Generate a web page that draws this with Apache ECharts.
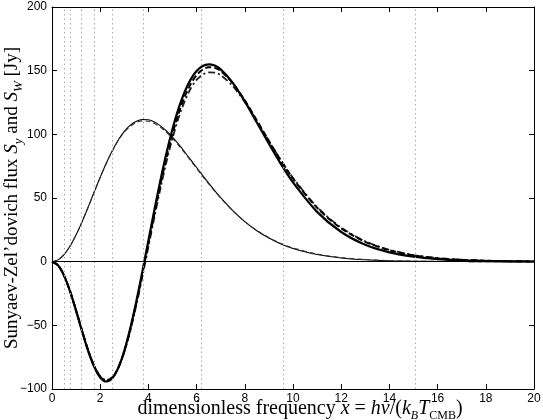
<!DOCTYPE html>
<html>
<head>
<meta charset="utf-8">
<script src="https://cdn.jsdelivr.net/npm/echarts@6/dist/echarts.min.js"></script>
<style>
html, body { margin: 0; padding: 0; background: #fff; }
#chart { width: 543px; height: 420px; }
</style>
</head>
<body>
<div id="chart"></div>
<script>
// dimensionless frequency samples
const xs = [0, 0.25, 0.5, 0.75, 1, 1.25, 1.5, 1.75, 2, 2.25, 2.5, 2.75, 3, 3.25, 3.5, 3.75,
  4, 4.25, 4.5, 4.75, 5, 5.25, 5.5, 5.75, 6, 6.25, 6.5, 6.75, 7, 7.5, 8, 8.5, 9, 9.5, 10,
  11, 12, 13, 14, 15, 16, 17, 18, 19, 20];

// thermal SZ flux S_y [Jy], solid / dashed / dash-dot
const syNonRel = [0, -2.83, -10.96, -23.40, -38.63, -54.82, -70.07, -82.59, -90.93, -94.08, -91.55, -83.37,
  -69.98, -52.19, -31.05, -7.73, 16.59, 40.82, 63.98, 85.29, 104.15, 120.17, 133.12, 142.95, 149.74,
  153.66, 154.97, 153.99, 151.00, 140.44, 125.84, 109.34, 92.57, 76.65, 62.26,
  39.11, 23.29, 13.28, 7.30, 3.89, 2.02, 1.03, 0.51, 0.25, 0.12];
const syRel1 = [0, -2.83, -10.96, -23.30, -38.43, -54.52, -69.67, -82.09, -90.33, -93.48, -91.15, -83.37,
  -70.48, -53.19, -32.55, -9.73, 14.09, 37.82, 60.68, 81.69, 100.35, 116.27, 129.32, 139.35, 146.54,
  150.86, 152.67, 152.19, 149.80, 140.24, 126.64, 110.94, 94.77, 79.35, 65.26,
  42.31, 26.19, 15.58, 9.00, 4.99, 2.72, 1.43, 0.76, 0.40, 0.20];
const syRel2 = [0, -2.83, -10.96, -23.20, -38.23, -54.22, -69.27, -81.59, -89.83, -92.98, -90.75, -83.37,
  -70.98, -54.19, -34.05, -11.73, 11.59, 35.02, 57.58, 78.39, 96.95, 112.77, 125.72, 135.75, 142.74,
  146.86, 148.67, 148.49, 146.50, 137.94, 125.34, 110.34, 94.77, 79.65, 65.76,
  42.91, 26.69, 15.98, 9.30, 5.19, 2.82, 1.53, 0.81, 0.45, 0.22];

// kinematic SZ flux S_W [Jy], solid / dashed
const swNonRel = [0, 1.42, 5.61, 12.29, 21.08, 31.46, 42.86, 54.67, 66.32, 77.29, 87.15, 95.55,
  102.28, 107.22, 110.34, 111.69, 111.42, 109.68, 106.68, 102.63, 97.75, 92.26, 86.34, 80.18, 73.93,
  67.72, 61.64, 55.80, 50.23, 40.12, 31.49, 24.33, 18.55, 13.96, 10.40,
  5.60, 2.92, 1.48, 0.73, 0.35, 0.17, 0.08, 0.04, 0.02, 0.01];
const swRel = [0, 1.42, 5.58, 12.22, 20.98, 31.31, 42.66, 54.42, 66.02, 76.94, 86.75, 95.10,
  101.78, 106.22, 109.24, 110.54, 110.27, 108.53, 105.58, 101.63, 96.85, 91.40, 85.54, 79.43, 73.23,
  67.12, 61.14, 55.40, 49.93, 40.02, 31.49, 24.48, 18.85, 14.31, 10.80,
  6.00, 3.22, 1.68, 0.83, 0.40, 0.19, 0.09, 0.04, 0.02, 0.01];

// observing bands (dotted verticals)
const bandX = [0.50, 0.76, 1.22, 1.74, 2.48, 3.80, 6.20, 9.58, 15.07];

const pairs = ys => xs.map((x, i) => [x, ys[i]]);
const minus = v => String(v).replace('-', '\u2212');

const chart = echarts.init(document.getElementById('chart'));

const serif = 'Liberation Serif';
function richSet(size, subSize, drop) {
  const main = { fontFamily: serif, fontSize: size, fill: '#000', color: '#000', padding: [0, 0, drop, 0], verticalAlign: 'bottom' };
  const sub = { fontFamily: serif, fontSize: subSize, fill: '#000', color: '#000', verticalAlign: 'bottom' };
  return {
    r: main, i: Object.assign({}, main, { fontStyle: 'italic' }),
    s: sub, si: Object.assign({}, sub, { fontStyle: 'italic' })
  };
}

const xTitle = '{r|dimensionless frequency }{i|x}{r| = }{i|h\u03bd}{r|/(}{i|k}{si|B}{i|T}{s|CMB}{r|)}';
const yTitle = "{r|Sunyaev-Zel\u2019dovich flux }{i|S}{si|y}{r| and }{i|S}{si|W}{r| [Jy]}";

const tickStyle = { show: true, inside: true, length: 5, lineStyle: { color: '#000' } };
const lineBlack = { show: true, onZero: false, lineStyle: { color: '#000', width: 1 } };

function curve(data, width, type, color) {
  return {
    type: 'line', data: pairs(data), symbol: 'none', smooth: 0.3,
    lineStyle: { color: color, width: width, type: type }
  };
}

const series = [
  curve(swNonRel, 1.1, 'solid', '#000'),
  curve(swRel, 1.1, [5, 3], '#333'),
  curve(syRel2, 1.8, [7, 3, 2, 3], '#222'),
  curve(syRel1, 2, [6, 3], '#000'),
  curve(syNonRel, 2.2, 'solid', '#000')
];
series[0].markLine = {
  silent: true, symbol: ['none', 'none'], label: { show: false }, animation: false,
  data: bandX.map(v => ({ xAxis: v, lineStyle: { color: '#aaa', width: 1, type: [1.5, 3] } }))
    .concat([{ yAxis: 0, lineStyle: { color: '#000', width: 1, type: 'solid' } }])
};

chart.setOption({
  animation: false,
  backgroundColor: '#fff',
  grid: { left: 52, right: 9, top: 7, bottom: 31, containLabel: false, outerBoundsMode: 'none' },
  xAxis: [{
    type: 'value', min: 0, max: 20, interval: 2,
    axisLine: lineBlack, axisTick: tickStyle, splitLine: { show: false },
    axisLabel: { color: '#000', fontFamily: 'Liberation Sans', fontSize: 12, margin: 4 }
  }, {
    type: 'value', min: 0, max: 20, interval: 2, position: 'top',
    axisLine: lineBlack, axisTick: tickStyle, axisLabel: { show: false }, splitLine: { show: false }
  }],
  yAxis: [{
    type: 'value', min: -100, max: 200, interval: 50,
    axisLine: lineBlack, axisTick: tickStyle, splitLine: { show: false },
    axisLabel: { color: '#000', fontFamily: 'Liberation Sans', fontSize: 12, margin: 5, formatter: minus }
  }, {
    type: 'value', min: -100, max: 200, interval: 50, position: 'right',
    axisLine: lineBlack, axisTick: tickStyle, axisLabel: { show: false }, splitLine: { show: false }
  }],
  graphic: [{
    type: 'text', x: 300, y: 422, silent: true,
    style: { text: xTitle, rich: richSet(20, 12, 3), align: 'center', verticalAlign: 'bottom' }
  }, {
    type: 'text', x: 14, y: 198, rotation: Math.PI / 2, silent: true,
    style: { text: yTitle, rich: richSet(19, 13, 4), align: 'center', verticalAlign: 'middle' }
  }],
  series: series
});
</script>
</body>
</html>
